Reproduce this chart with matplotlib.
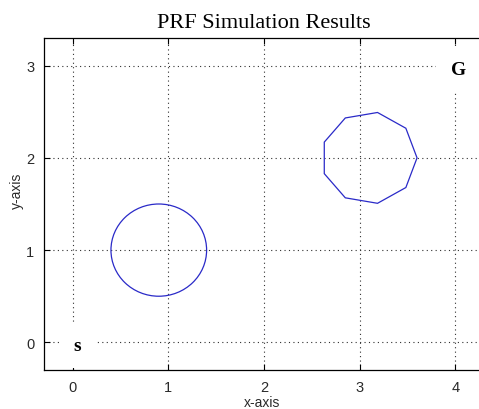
import numpy as np
import matplotlib
matplotlib.use("Agg")
import matplotlib.pyplot as plt
from matplotlib.patches import Circle, RegularPolygon

# -------------------------
# Scene data
# -------------------------

# round obstacle (smooth circle)
circle_center = (0.9, 1.0)
circle_radius = 0.5

# coarse obstacle (9-sided outline)
poly_center = (3.1, 2.0)
poly_radius = 0.5
poly_vertices = 9
poly_start_deg = 0

# start / goal markers
start_pos = (0.05, -0.03)
goal_pos = (4.03, 2.96)
start_label = "s"
goal_label = "G"

x_ticks = [0, 1, 2, 3, 4]
y_ticks = [0, 1, 2, 3]
x_limits = (-0.3, 4.3)
y_limits = (-0.3, 3.3)

# -------------------------
# Plot
# -------------------------

W, H = 479, 410
fig = plt.figure(figsize=(W / 100, H / 100), dpi=100)
ax = fig.add_axes([44 / W, (H - 371) / H, (484 - 44) / W, (371 - 39) / H])

obstacle_color = "#2a2ac8"

ax.add_patch(Circle(circle_center, circle_radius, fill=False,
                    edgecolor=obstacle_color, linewidth=0.9, zorder=3))
ax.add_patch(RegularPolygon(poly_center, poly_vertices, radius=poly_radius,
                            orientation=np.deg2rad(poly_start_deg) - np.pi / 2,
                            fill=False, edgecolor=obstacle_color,
                            linewidth=0.9, zorder=3))

box = dict(boxstyle="square,pad=0.75", facecolor="white", edgecolor="none")
ax.text(start_pos[0], start_pos[1], start_label, family="Liberation Serif",
        fontweight="bold", fontsize=14, ha="center", va="center",
        bbox=box, zorder=4)
ax.text(goal_pos[0], goal_pos[1], goal_label, family="Liberation Serif",
        fontweight="bold", fontsize=14, ha="center", va="center",
        bbox=box, zorder=4)

ax.set_xlim(*x_limits)
ax.set_ylim(*y_limits)
ax.set_xticks(x_ticks)
ax.set_yticks(y_ticks)

ax.grid(True, linestyle=(0, (1, 3)), color="#303030", linewidth=0.8)
ax.set_axisbelow(True)

ax.tick_params(direction="in", top=True, right=False, length=4,
               labelsize=10.5, labelcolor="#2a2a2a", pad=7)
for lbl in ax.get_xticklabels() + ax.get_yticklabels():
    lbl.set_family("Liberation Sans")

for s in ax.spines.values():
    s.set_linewidth(0.9)
ax.spines["right"].set_visible(False)

ax.set_xlabel("x-axis", family="Liberation Sans", fontsize=10, color="#2a2a2a")
ax.set_ylabel("y-axis", family="Liberation Sans", fontsize=10, color="#2a2a2a")
ax.xaxis.set_label_coords(0.495, -0.097)
ax.yaxis.set_label_coords(-0.061, 0.542)
ax.xaxis.label.set_va("center")
ax.yaxis.label.set_va("center")

ax.set_title("PRF Simulation Results", family="Liberation Serif",
             fontsize=16, pad=8)

fig.savefig("out.png", dpi=100)
plt.close(fig)
